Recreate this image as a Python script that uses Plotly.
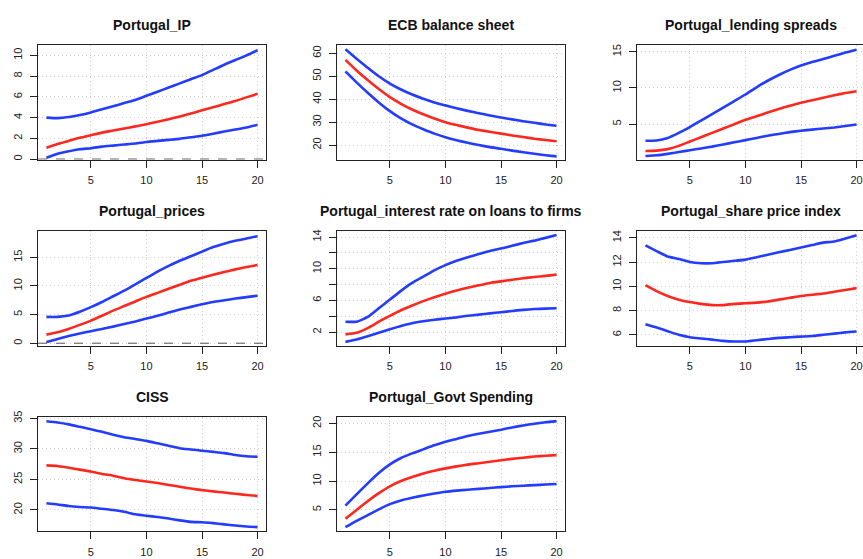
import plotly.graph_objects as go

horizon = list(range(1, 21))

titles = ["Portugal_IP", "ECB balance sheet", "Portugal_lending spreads",
          "Portugal_prices", "Portugal_interest rate on loans to firms", "Portugal_share price index",
          "CISS", "Portugal_Govt Spending"]

ip_upper = [4.0, 3.95, 4.05, 4.25, 4.5, 4.8, 5.1, 5.4, 5.7, 6.1, 6.5, 6.9, 7.3, 7.7, 8.1, 8.6, 9.1, 9.55, 10.0, 10.5]
ip_median = [1.1, 1.45, 1.75, 2.05, 2.3, 2.55, 2.75, 2.95, 3.15, 3.35, 3.6, 3.85, 4.1, 4.4, 4.7, 5.0, 5.3, 5.6, 5.95, 6.3]
ip_lower = [0.12, 0.5, 0.75, 0.95, 1.05, 1.2, 1.3, 1.4, 1.5, 1.65, 1.75, 1.85, 1.95, 2.1, 2.25, 2.45, 2.65, 2.85, 3.05, 3.3]

ecb_upper = [61.7, 57.6, 53.7, 50.0, 46.8, 44.2, 42.0, 40.2, 38.6, 37.3, 36.0, 34.9, 33.9, 32.9, 32.0, 31.2, 30.4, 29.7, 29.0, 28.4]
ecb_median = [57.1, 52.5, 48.3, 44.4, 40.9, 38.0, 35.5, 33.4, 31.6, 30.0, 28.7, 27.6, 26.6, 25.8, 25.0, 24.2, 23.5, 22.8, 22.2, 21.7]
ecb_lower = [52.1, 47.3, 42.8, 38.6, 34.8, 31.6, 29.0, 26.9, 25.0, 23.4, 22.1, 21.0, 20.0, 19.1, 18.4, 17.6, 16.9, 16.2, 15.6, 15.1]

spread_upper = [2.7, 2.75, 3.1, 3.8, 4.6, 5.5, 6.4, 7.3, 8.2, 9.1, 10.1, 11.0, 11.8, 12.5, 13.1, 13.6, 14.0, 14.45, 14.9, 15.3]
spread_median = [1.3, 1.35, 1.55, 2.0, 2.6, 3.2, 3.8, 4.4, 5.0, 5.6, 6.1, 6.6, 7.1, 7.55, 7.95, 8.3, 8.65, 9.0, 9.3, 9.55]
spread_lower = [0.6, 0.7, 0.9, 1.15, 1.4, 1.65, 1.9, 2.2, 2.5, 2.8, 3.1, 3.4, 3.65, 3.9, 4.1, 4.25, 4.4, 4.55, 4.75, 4.95]

prices_upper = [4.6, 4.6, 4.85, 5.5, 6.3, 7.2, 8.2, 9.2, 10.3, 11.4, 12.5, 13.5, 14.4, 15.2, 16.0, 16.8, 17.4, 17.9, 18.3, 18.7]
prices_median = [1.5, 1.9, 2.5, 3.2, 3.95, 4.8, 5.7, 6.5, 7.3, 8.1, 8.8, 9.5, 10.2, 10.9, 11.45, 11.95, 12.45, 12.9, 13.3, 13.65]
prices_lower = [0.2, 0.75, 1.25, 1.7, 2.1, 2.5, 2.9, 3.35, 3.8, 4.3, 4.8, 5.35, 5.9, 6.35, 6.8, 7.2, 7.5, 7.8, 8.05, 8.3]

rate_upper = [3.3, 3.3, 3.9, 5.0, 6.1, 7.2, 8.2, 9.0, 9.8, 10.45, 11.0, 11.45, 11.85, 12.25, 12.55, 12.9, 13.25, 13.55, 13.9, 14.25]
rate_median = [1.7, 1.9, 2.5, 3.3, 4.05, 4.75, 5.35, 5.9, 6.4, 6.85, 7.25, 7.6, 7.9, 8.2, 8.4, 8.6, 8.8, 8.95, 9.1, 9.25]
rate_lower = [0.75, 1.05, 1.45, 1.9, 2.35, 2.75, 3.1, 3.35, 3.55, 3.7, 3.85, 4.05, 4.2, 4.35, 4.5, 4.65, 4.8, 4.9, 4.95, 5.0]

share_upper = [13.37, 12.9, 12.45, 12.25, 12.0, 11.9, 11.9, 12.0, 12.1, 12.2, 12.4, 12.6, 12.8, 13.0, 13.2, 13.4, 13.6, 13.7, 13.95, 14.2]
share_median = [10.1, 9.6, 9.2, 8.9, 8.7, 8.55, 8.45, 8.45, 8.55, 8.6, 8.65, 8.75, 8.9, 9.05, 9.2, 9.3, 9.4, 9.55, 9.7, 9.85]
share_lower = [6.87, 6.6, 6.3, 6.0, 5.8, 5.7, 5.6, 5.5, 5.45, 5.45, 5.55, 5.65, 5.75, 5.8, 5.85, 5.9, 6.0, 6.1, 6.2, 6.27]

ciss_upper = [34.5, 34.3, 34.0, 33.6, 33.2, 32.8, 32.3, 31.9, 31.6, 31.3, 30.9, 30.5, 30.1, 29.9, 29.7, 29.5, 29.3, 29.0, 28.8, 28.7]
ciss_median = [27.3, 27.2, 26.9, 26.6, 26.3, 25.9, 25.6, 25.2, 24.9, 24.65, 24.4, 24.1, 23.8, 23.5, 23.25, 23.05, 22.85, 22.65, 22.45, 22.3]
ciss_lower = [21.1, 20.9, 20.65, 20.5, 20.4, 20.2, 20.0, 19.7, 19.3, 19.05, 18.85, 18.6, 18.3, 18.05, 18.0, 17.85, 17.65, 17.45, 17.3, 17.2]

govt_upper = [5.74, 7.7, 9.6, 11.4, 12.9, 14.0, 14.8, 15.5, 16.2, 16.8, 17.3, 17.8, 18.2, 18.55, 18.9, 19.3, 19.65, 19.95, 20.2, 20.4]
govt_median = [3.47, 5.0, 6.5, 7.9, 9.1, 10.0, 10.7, 11.3, 11.8, 12.2, 12.55, 12.85, 13.1, 13.35, 13.6, 13.85, 14.05, 14.25, 14.4, 14.5]
govt_lower = [2.0, 3.1, 4.1, 5.1, 6.0, 6.65, 7.1, 7.5, 7.85, 8.15, 8.35, 8.5, 8.65, 8.8, 8.95, 9.1, 9.2, 9.3, 9.4, 9.5]

series = [
    (ip_upper, ip_median, ip_lower),
    (ecb_upper, ecb_median, ecb_lower),
    (spread_upper, spread_median, spread_lower),
    (prices_upper, prices_median, prices_lower),
    (rate_upper, rate_median, rate_lower),
    (share_upper, share_median, share_lower),
    (ciss_upper, ciss_median, ciss_lower),
    (govt_upper, govt_median, govt_lower),
]

y_ticks = [
    [0, 2, 4, 6, 8, 10],
    [20, 30, 40, 50, 60],
    [5, 10, 15],
    [0, 5, 10, 15],
    [2, 4, 6, 8, 10, 12, 14],
    [6, 8, 10, 12, 14],
    [20, 25, 30, 35],
    [5, 10, 15, 20],
]
y_ticktext = [
    ["0", "2", "4", "6", "8", "10"],
    ["20", "30", "40", "50", "60"],
    ["5", "10", "15"],
    ["0", "5", "10", "15"],
    ["2", "", "6", "", "10", "", "14"],
    ["6", "8", "10", "12", "14"],
    ["20", "25", "30", "35"],
    ["5", "10", "15", "20"],
]
y_ranges = [
    [-0.07, 10.96], [13.6, 63.4], [0.08, 15.88], [-0.5, 19.65],
    [0.22, 14.8], [5.07, 14.58], [16.5, 35.2], [1.28, 21.1],
]
zero_line_panels = [0, 3]
x_ticks = [5, 10, 15, 20]

W, H = 863, 559
cols_px = [(38, 266), (337, 565), (637, 863)]
rows_px = [(39, 155), (227, 344), (416, 532)]
px_per_unit = 228 / 20.52

BLUE = "rgb(35,60,255)"
RED = "rgb(255,40,30)"
FONT = "Liberation Sans, Arial, Helvetica, sans-serif"

fig = go.Figure()
layout = dict(
    width=W, height=H, margin=dict(l=0, r=0, t=0, b=0),
    paper_bgcolor="white", plot_bgcolor="white", showlegend=False,
    font=dict(family=FONT, size=11, color="#222"),
)
annotations = []
shapes = []

for i, (up, med, lo) in enumerate(series):
    r, c = divmod(i, 3)
    n = i + 1
    xa = "x" if n == 1 else f"x{n}"
    ya = "y" if n == 1 else f"y{n}"
    l, rt = cols_px[c]
    t, b = rows_px[r]
    x0 = 0.24
    x1 = 20.76 if c < 2 else x0 + (rt - l) / px_per_unit
    for vals, col in ((up, BLUE), (med, RED), (lo, BLUE)):
        fig.add_trace(go.Scatter(
            x=horizon, y=vals, mode="lines", xaxis=xa, yaxis=ya,
            line=dict(color=col, width=2.6, shape="spline", smoothing=0.5),
            hoverinfo="skip",
        ))
    axis_common = dict(
        showline=True, linecolor="#222", linewidth=1,
        ticks="outside", ticklen=7, tickcolor="#222", tickwidth=1,
        showgrid=True, gridcolor="#cdcdcd", griddash="1px,3px", gridwidth=1,
        zeroline=False, tickfont=dict(family=FONT, size=11, color="#222"),
        fixedrange=True,
    )
    layout["xaxis" + ("" if n == 1 else str(n))] = dict(
        axis_common, domain=[l / W, rt / W], range=[x0, x1],
        tickmode="array", tickvals=x_ticks, ticktext=[str(v) for v in x_ticks],
        anchor=ya, mirror=True, ticklabelstandoff=3,
    )
    layout["yaxis" + ("" if n == 1 else str(n))] = dict(
        axis_common, domain=[1 - b / H, 1 - t / H], range=y_ranges[i],
        tickmode="array", tickvals=y_ticks[i], ticktext=y_ticktext[i],
        tickangle=-90, anchor=xa, mirror=(c < 2), ticklabelstandoff=4,
    )
    annotations.append(dict(
        text=f"<b>{titles[i]}</b>", x=(l + (rt if c < 2 else l + 228)) / 2 / W,
        y=1 - (t - 20.5) / H, xref="paper", yref="paper",
        xanchor="center", yanchor="middle", showarrow=False,
        font=dict(family=FONT, size=14, color="#111"),
    ))
    if i in zero_line_panels:
        shapes.append(dict(
            type="line", xref=f"{xa} domain", yref=ya, x0=0, x1=1, y0=0, y1=0,
            line=dict(color="#555", width=1, dash="dash"),
        ))

layout["annotations"] = annotations
layout["shapes"] = shapes
fig.update_layout(**layout)
fig.write_html("out.html")
